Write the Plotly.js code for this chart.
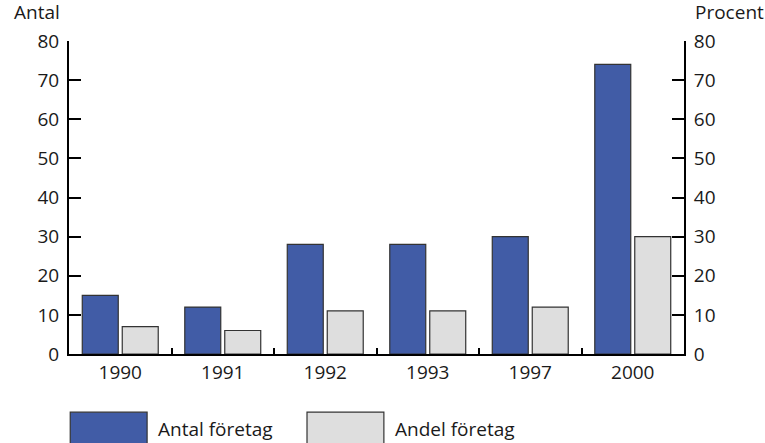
<!DOCTYPE html>
<html><head><meta charset="utf-8">
<script src="https://cdn.plot.ly/plotly-3.0.1.min.js"></script>
<style>html,body{margin:0;padding:0;background:#fff}#c{width:765px;height:443px}</style>
</head><body><div id="c"></div>
<script>
const categories = ['1990','1991','1992','1993','1997','2000'];
const antalForetag = [15, 12, 28, 28, 30, 74];
const andelForetag = [7, 6, 11, 11, 12, 30];
const seriesNames = ['Antal företag', 'Andel företag'];
const leftTitle = 'Antal';
const rightTitle = 'Procent';
const tickVals = [0,10,20,30,40,50,60,70,80];

const font = {family: 'Open Sans, Noto Sans, sans-serif', size: 19, color: '#1a1a1a'};
const blue = '#415ca6', grey = '#dedede', edge = '#333333';

const traces = [
  {type:'bar', x: categories, y: antalForetag, name: seriesNames[0], yaxis:'y', offsetgroup:'a',
   marker:{color: blue, line:{color: edge, width: 1.2}}, showlegend:false},
  {type:'bar', x: categories, y: andelForetag, name: seriesNames[1], yaxis:'y2', offsetgroup:'b',
   marker:{color: grey, line:{color: edge, width: 1.2}}, showlegend:false}
];

const axisCommon = {range:[0,80], tickvals: tickVals, ticks:'inside', ticklen:12, tickwidth:2, tickcolor:'#000',
  showline:true, linecolor:'#000', linewidth:2, showgrid:false, zeroline:false, fixedrange:true, tickfont: font,
  ticklabelstandoff: 4};

const layout = {
  width:765, height:443,
  margin:{l:69, r:81, t:41, b:89},
  paper_bgcolor:'#fff', plot_bgcolor:'#fff',
  font: font,
  barmode:'group', bargap:0.22, bargroupgap:0.1,
  showlegend:false,
  xaxis:{type:'category', ticks:'inside', tickson:'boundaries', ticklen:6, tickwidth:2, tickcolor:'#000',
    showline:true, linecolor:'#000', linewidth:2, showgrid:false, tickfont: font, fixedrange:true},
  yaxis: Object.assign({}, axisCommon, {side:'left'}),
  yaxis2: Object.assign({}, axisCommon, {side:'right', overlaying:'y'}),
  shapes:[
    {type:'rect', xref:'paper', yref:'paper', x0:0.002, x1:0.127, y0:-0.29, y1:-0.186, line:{color:edge,width:1.2}, fillcolor: blue},
    {type:'rect', xref:'paper', yref:'paper', x0:0.387, x1:0.512, y0:-0.29, y1:-0.186, line:{color:edge,width:1.2}, fillcolor: grey}
  ],
  annotations:[
    {xref:'paper', yref:'paper', x:-0.012, y:1.045, xanchor:'right', yanchor:'bottom', text:leftTitle, showarrow:false, font:font},
    {xref:'paper', yref:'paper', x:1.015, y:1.045, xanchor:'left', yanchor:'bottom', text:rightTitle, showarrow:false, font:font},
    {xref:'paper', yref:'paper', x:0.142, y:-0.288, xanchor:'left', yanchor:'bottom', text:seriesNames[0], showarrow:false, font:font},
    {xref:'paper', yref:'paper', x:0.527, y:-0.288, xanchor:'left', yanchor:'bottom', text:seriesNames[1], showarrow:false, font:font}
  ]
};
Plotly.newPlot('c', traces, layout, {displayModeBar:false, staticPlot:true});
</script></body></html>
